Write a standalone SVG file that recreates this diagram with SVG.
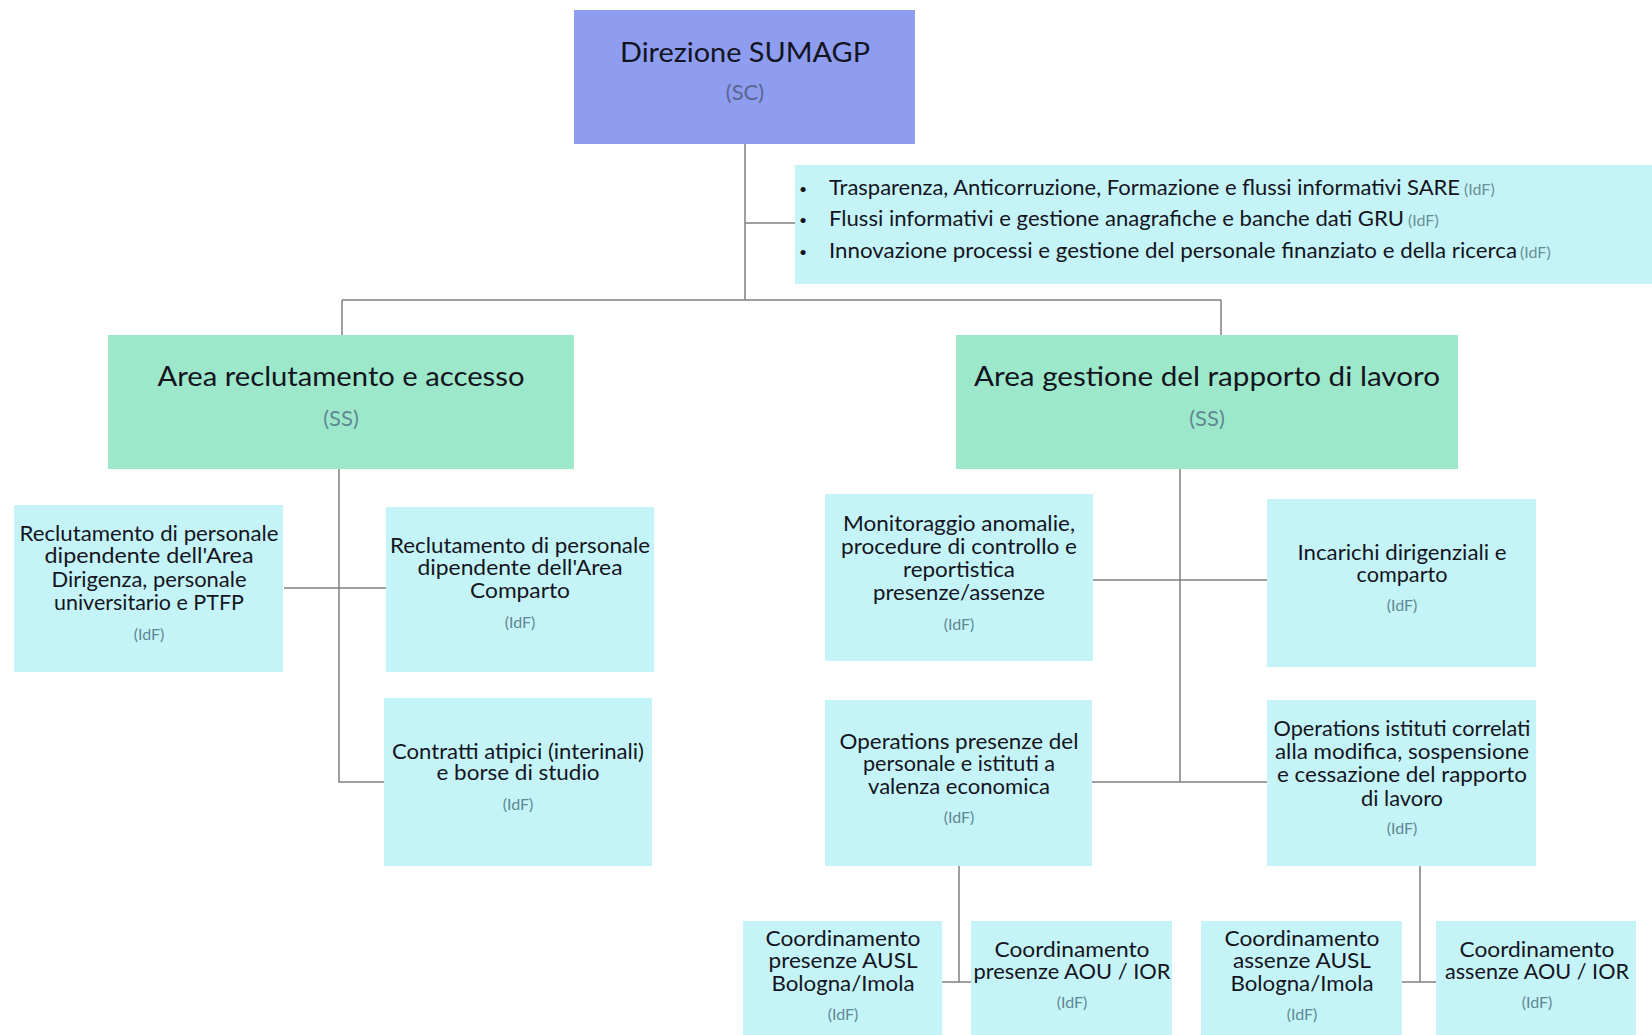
<svg xmlns="http://www.w3.org/2000/svg" width="1652" height="1035" viewBox="0 0 1652 1035">
<style>
.bg{fill:#ffffff}
.top{fill:#8e9df0}
.area{fill:#9de8cb}
.leaf{fill:#c5f4f8}
.t{font-family:Lato,"Open Sans","Liberation Sans",sans-serif;fill:#14141e;text-anchor:middle}
.tl{font-family:Lato,"Open Sans","Liberation Sans",sans-serif;fill:#14141e}
.big{font-size:27px}
.body{font-size:20.5px}
.bul{font-family:Lato,"Open Sans","Liberation Sans",sans-serif;fill:#14141e;font-size:14px}
.sub{font-family:Lato,"Open Sans","Liberation Sans",sans-serif;fill:#5e8894;text-anchor:middle;font-size:16px}
.subb{font-family:Lato,"Open Sans","Liberation Sans",sans-serif;fill:#5e8894;text-anchor:middle;font-size:22px}
.subl{font-family:Lato,"Open Sans","Liberation Sans",sans-serif;fill:#6a8f99;font-size:16px}
.conn{fill:none;stroke:#7f7f7f;stroke-width:1.5}
</style>
<rect class="bg" x="0" y="0" width="1652" height="1035"/>

<g id="connectors">
<path class="conn" d="M745,144 V300"/>
<path class="conn" d="M745,223 H795"/>
<path class="conn" d="M342,300 H1221"/>
<path class="conn" d="M342,300 V335"/>
<path class="conn" d="M1221,300 V335"/>
<path class="conn" d="M339,469 V782 H385"/>
<path class="conn" d="M284,588 H387"/>
<path class="conn" d="M1180,469 V782"/>
<path class="conn" d="M1093,580 H1267"/>
<path class="conn" d="M1092,782 H1267"/>
<path class="conn" d="M959,866 V982"/>
<path class="conn" d="M942,982 H971"/>
<path class="conn" d="M1420,866 V982"/>
<path class="conn" d="M1402,982 H1436"/>
</g>

<g id="direzione">
<rect class="top" x="574" y="10" width="341" height="134"/>
<text class="t big" x="745" y="62" textLength="250" lengthAdjust="spacingAndGlyphs">Direzione SUMAGP</text>
<text class="subb" x="745" y="100" style="fill:#5a6590">(SC)</text>
</g>

<g id="staff">
<rect class="leaf" x="795" y="165" width="857" height="119"/>
<text class="bul" x="799" y="194">•</text>
<text class="tl body" x="829" y="195" textLength="631" lengthAdjust="spacingAndGlyphs">Trasparenza, Anticorruzione, Formazione e flussi informativi SARE</text>
<text class="subl" x="1464" y="195">(IdF)</text>
<text class="bul" x="799" y="225">•</text>
<text class="tl body" x="829" y="226" textLength="575" lengthAdjust="spacingAndGlyphs">Flussi informativi e gestione anagrafiche e banche dati GRU</text>
<text class="subl" x="1408" y="226">(IdF)</text>
<text class="bul" x="799" y="257">•</text>
<text class="tl body" x="829" y="258" textLength="688" lengthAdjust="spacingAndGlyphs">Innovazione processi e gestione del personale finanziato e della ricerca</text>
<text class="subl" x="1520" y="258">(IdF)</text>
</g>

<g id="area-reclutamento">
<rect class="area" x="108" y="335" width="466" height="134"/>
<text class="t big" x="341" y="386" textLength="367" lengthAdjust="spacingAndGlyphs">Area reclutamento e accesso</text>
<text class="subb" x="341" y="426">(SS)</text>
</g>

<g id="area-gestione">
<rect class="area" x="956" y="335" width="502" height="134"/>
<text class="t big" x="1207" y="386" textLength="466" lengthAdjust="spacingAndGlyphs">Area gestione del rapporto di lavoro</text>
<text class="subb" x="1207" y="426">(SS)</text>
</g>

<g id="rec-dirigenza">
<rect class="leaf" x="14" y="505" width="269" height="167"/>
<text class="t body" x="149" y="541" textLength="259" lengthAdjust="spacingAndGlyphs">Reclutamento di personale</text>
<text class="t body" x="149" y="563" textLength="209" lengthAdjust="spacingAndGlyphs">dipendente dell'Area</text>
<text class="t body" x="149" y="587" textLength="195" lengthAdjust="spacingAndGlyphs">Dirigenza, personale</text>
<text class="t body" x="149" y="610" textLength="190" lengthAdjust="spacingAndGlyphs">universitario e PTFP</text>
<text class="sub" x="149" y="640">(IdF)</text>
</g>

<g id="rec-comparto">
<rect class="leaf" x="386" y="507" width="268" height="165"/>
<text class="t body" x="520" y="553" textLength="260" lengthAdjust="spacingAndGlyphs">Reclutamento di personale</text>
<text class="t body" x="520" y="575" textLength="205" lengthAdjust="spacingAndGlyphs">dipendente dell'Area</text>
<text class="t body" x="520" y="598" textLength="100" lengthAdjust="spacingAndGlyphs">Comparto</text>
<text class="sub" x="520" y="628">(IdF)</text>
</g>

<g id="contratti">
<rect class="leaf" x="384" y="698" width="268" height="168"/>
<text class="t body" x="518" y="759" textLength="252" lengthAdjust="spacingAndGlyphs">Contratti atipici (interinali)</text>
<text class="t body" x="518" y="780" textLength="163" lengthAdjust="spacingAndGlyphs">e borse di studio</text>
<text class="sub" x="518" y="810">(IdF)</text>
</g>

<g id="monitoraggio">
<rect class="leaf" x="825" y="494" width="268" height="167"/>
<text class="t body" x="959" y="531" textLength="232" lengthAdjust="spacingAndGlyphs">Monitoraggio anomalie,</text>
<text class="t body" x="959" y="554" textLength="236" lengthAdjust="spacingAndGlyphs">procedure di controllo e</text>
<text class="t body" x="959" y="577" textLength="112" lengthAdjust="spacingAndGlyphs">reportistica</text>
<text class="t body" x="959" y="600" textLength="172" lengthAdjust="spacingAndGlyphs">presenze/assenze</text>
<text class="sub" x="959" y="630">(IdF)</text>
</g>

<g id="incarichi">
<rect class="leaf" x="1267" y="499" width="269" height="168"/>
<text class="t body" x="1402" y="560" textLength="209" lengthAdjust="spacingAndGlyphs">Incarichi dirigenziali e</text>
<text class="t body" x="1402" y="582" textLength="91" lengthAdjust="spacingAndGlyphs">comparto</text>
<text class="sub" x="1402" y="611">(IdF)</text>
</g>

<g id="operations-presenze">
<rect class="leaf" x="825" y="700" width="267" height="166"/>
<text class="t body" x="959" y="749" textLength="239" lengthAdjust="spacingAndGlyphs">Operations presenze del</text>
<text class="t body" x="959" y="771" textLength="192" lengthAdjust="spacingAndGlyphs">personale e istituti a</text>
<text class="t body" x="959" y="794" textLength="182" lengthAdjust="spacingAndGlyphs">valenza economica</text>
<text class="sub" x="959" y="823">(IdF)</text>
</g>

<g id="operations-istituti">
<rect class="leaf" x="1267" y="700" width="269" height="166"/>
<text class="t body" x="1402" y="736" textLength="257" lengthAdjust="spacingAndGlyphs">Operations istituti correlati</text>
<text class="t body" x="1402" y="759" textLength="254" lengthAdjust="spacingAndGlyphs">alla modifica, sospensione</text>
<text class="t body" x="1402" y="782" textLength="250" lengthAdjust="spacingAndGlyphs">e cessazione del rapporto</text>
<text class="t body" x="1402" y="806" textLength="82" lengthAdjust="spacingAndGlyphs">di lavoro</text>
<text class="sub" x="1402" y="834">(IdF)</text>
</g>

<g id="coord-presenze-ausl">
<rect class="leaf" x="743" y="921" width="199" height="114"/>
<text class="t body" x="843" y="946" textLength="155" lengthAdjust="spacingAndGlyphs">Coordinamento</text>
<text class="t body" x="843" y="968" textLength="149" lengthAdjust="spacingAndGlyphs">presenze AUSL</text>
<text class="t body" x="843" y="991" textLength="143" lengthAdjust="spacingAndGlyphs">Bologna/Imola</text>
<text class="sub" x="843" y="1020">(IdF)</text>
</g>

<g id="coord-presenze-aou">
<rect class="leaf" x="971" y="921" width="201" height="114"/>
<text class="t body" x="1072" y="957" textLength="155" lengthAdjust="spacingAndGlyphs">Coordinamento</text>
<text class="t body" x="1072" y="979" textLength="197" lengthAdjust="spacingAndGlyphs">presenze AOU / IOR</text>
<text class="sub" x="1072" y="1008">(IdF)</text>
</g>

<g id="coord-assenze-ausl">
<rect class="leaf" x="1201" y="921" width="201" height="114"/>
<text class="t body" x="1302" y="946" textLength="155" lengthAdjust="spacingAndGlyphs">Coordinamento</text>
<text class="t body" x="1302" y="968" textLength="138" lengthAdjust="spacingAndGlyphs">assenze AUSL</text>
<text class="t body" x="1302" y="991" textLength="143" lengthAdjust="spacingAndGlyphs">Bologna/Imola</text>
<text class="sub" x="1302" y="1020">(IdF)</text>
</g>

<g id="coord-assenze-aou">
<rect class="leaf" x="1436" y="921" width="200" height="114"/>
<text class="t body" x="1537" y="957" textLength="155" lengthAdjust="spacingAndGlyphs">Coordinamento</text>
<text class="t body" x="1537" y="979" textLength="184" lengthAdjust="spacingAndGlyphs">assenze AOU / IOR</text>
<text class="sub" x="1537" y="1008">(IdF)</text>
</g>
</svg>
